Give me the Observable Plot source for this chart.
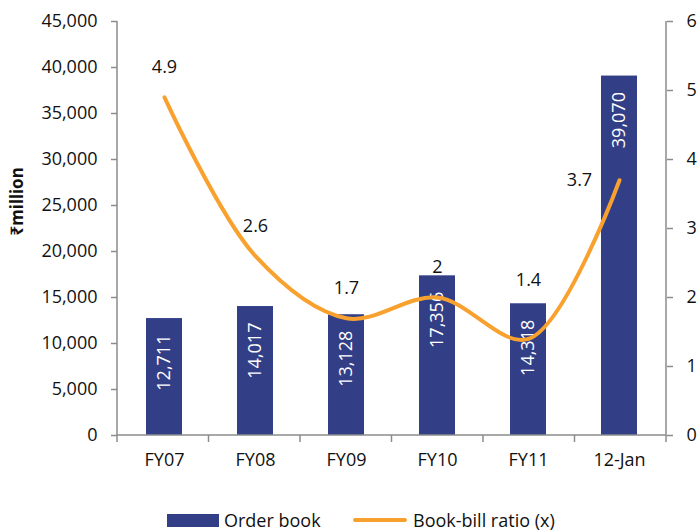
<!DOCTYPE html>
<html>
<head>
<meta charset="utf-8">
<script src="https://cdn.jsdelivr.net/npm/d3@7"></script>
<script src="https://cdn.jsdelivr.net/npm/@observablehq/plot@0.6"></script>
<style>
  html, body { margin: 0; padding: 0; background: #fff; }
  #chart { width: 698px; height: 532px; position: relative; font-family: "Open Sans", sans-serif; color: #111; }
  .legend { position: relative; height: 42px; font-size: 18px; }
  .legend .item { position: absolute; top: 19px; display: flex; align-items: center; height: 22px; }
  .legend .bar { width: 52px; height: 13px; background: #323F87; margin-right: 5px; }
  .legend .line { width: 54px; height: 4px; border-radius: 2px; background: #F9A12E; margin-right: 6px; }
</style>
</head>
<body>
<div id="chart"></div>
<script>
// Order book (₹ million) and book-to-bill ratio by period
const categories = ["FY07", "FY08", "FY09", "FY10", "FY11", "12-Jan"];
const orderBook = [12711, 14017, 13128, 17356, 14318, 39070];
const bookBill = [4.9, 2.6, 1.7, 2, 1.4, 3.7];
const leftTicks = [0, 5000, 10000, 15000, 20000, 25000, 30000, 35000, 40000, 45000];
const rightTicks = [0, 1, 2, 3, 4, 5, 6];

const BAR_COLOR = "#323F87";
const LINE_COLOR = "#F9A12E";
const AXIS_GREY = "#8C8C8C";

// the ratio axis (0–6) shares the pixel range of the order-book axis (0–45,000)
const K = 45000 / 6;

const rows = categories.map((c, i) => ({cat: c, order: orderBook[i], ratio: bookBill[i]}));

// axis lines and the category-boundary tick marks
function axisFrame(index, scales, values, dims) {
  const {width, height, marginLeft, marginRight, marginTop, marginBottom} = dims;
  const x0 = marginLeft, x1 = width - marginRight, yb = height - marginBottom;
  const step = (x1 - x0) / categories.length;
  const g = d3.create("svg:g")
    .attr("fill", "none")
    .attr("stroke", AXIS_GREY)
    .attr("stroke-width", 1.5);
  g.append("path").attr("d", `M${x0},${marginTop}V${yb}H${x1}V${marginTop}`);
  for (let i = 0; i <= categories.length; ++i) {
    const x = x0 + i * step;
    g.append("line").attr("x1", x).attr("x2", x).attr("y1", yb).attr("y2", yb + 7);
  }
  return g.node();
}

const fmt = d3.format(",");

const chart = Plot.plot({
  width: 698,
  height: 490,
  marginLeft: 117,
  marginRight: 32,
  marginTop: 21,
  marginBottom: 55,
  style: {fontFamily: "'Open Sans', sans-serif", fontSize: "18px", color: "#111", background: "#fff"},
  x: {domain: categories, paddingInner: 0.6, paddingOuter: 0.3, label: null},
  y: {domain: [0, 45000], label: null},
  marks: [
    Plot.barY(rows, {x: "cat", y: "order", fill: BAR_COLOR}),
    Plot.text(rows, {
      x: "cat", y: "order", text: d => fmt(d.order),
      rotate: -90, textAnchor: "end", dy: 16, fill: "white", fontSize: 18
    }),
    Plot.line(rows, {
      x: "cat", y: d => d.ratio * K, curve: "catmull-rom",
      stroke: LINE_COLOR, strokeWidth: 4, strokeLinecap: "round"
    }),
    // ratio labels: above the point, raised for FY11, left of the point for the last period
    Plot.text(rows.filter(d => d.cat !== "FY11" && d.cat !== "12-Jan"), {
      x: "cat", y: d => d.ratio * K, text: d => String(d.ratio), dy: -30, fill: "#111"
    }),
    Plot.text(rows.filter(d => d.cat === "FY11"), {
      x: "cat", y: d => d.ratio * K, text: d => String(d.ratio), dy: -59, fill: "#111"
    }),
    Plot.text(rows.filter(d => d.cat === "12-Jan"), {
      x: "cat", y: d => d.ratio * K, text: d => String(d.ratio), dx: -40, fill: "#111"
    }),
    Plot.axisY(leftTicks, {
      anchor: "left", tickFormat: fmt, tickSize: 6, tickPadding: 14,
      color: "#111", stroke: AXIS_GREY, strokeWidth: 1.5, label: null
    }),
    Plot.axisY(rightTicks.map(t => t * K), {
      anchor: "right", tickFormat: d => String(Math.round(d / K)), tickSize: 6, tickPadding: 14,
      color: "#111", stroke: AXIS_GREY, strokeWidth: 1.5, label: null
    }),
    Plot.axisX({tickSize: 0, tickPadding: 18, color: "#111", label: null}),
    Plot.text(["₹million"], {
      frameAnchor: "left", dx: -100, dy: 7, rotate: -90,
      fontWeight: "bold", fontSize: 17, fill: "#111", fontFamily: "'Noto Sans', sans-serif"
    }),
    axisFrame
  ]
});

const root = document.getElementById("chart");
root.appendChild(chart);

const legend = document.createElement("div");
legend.className = "legend";
legend.innerHTML =
  `<div class="item" style="left:167px"><span class="bar"></span><span>Order book</span></div>` +
  `<div class="item" style="left:353px"><span class="line"></span><span>Book-bill ratio (x)</span></div>`;
root.appendChild(legend);
</script>
</body>
</html>
